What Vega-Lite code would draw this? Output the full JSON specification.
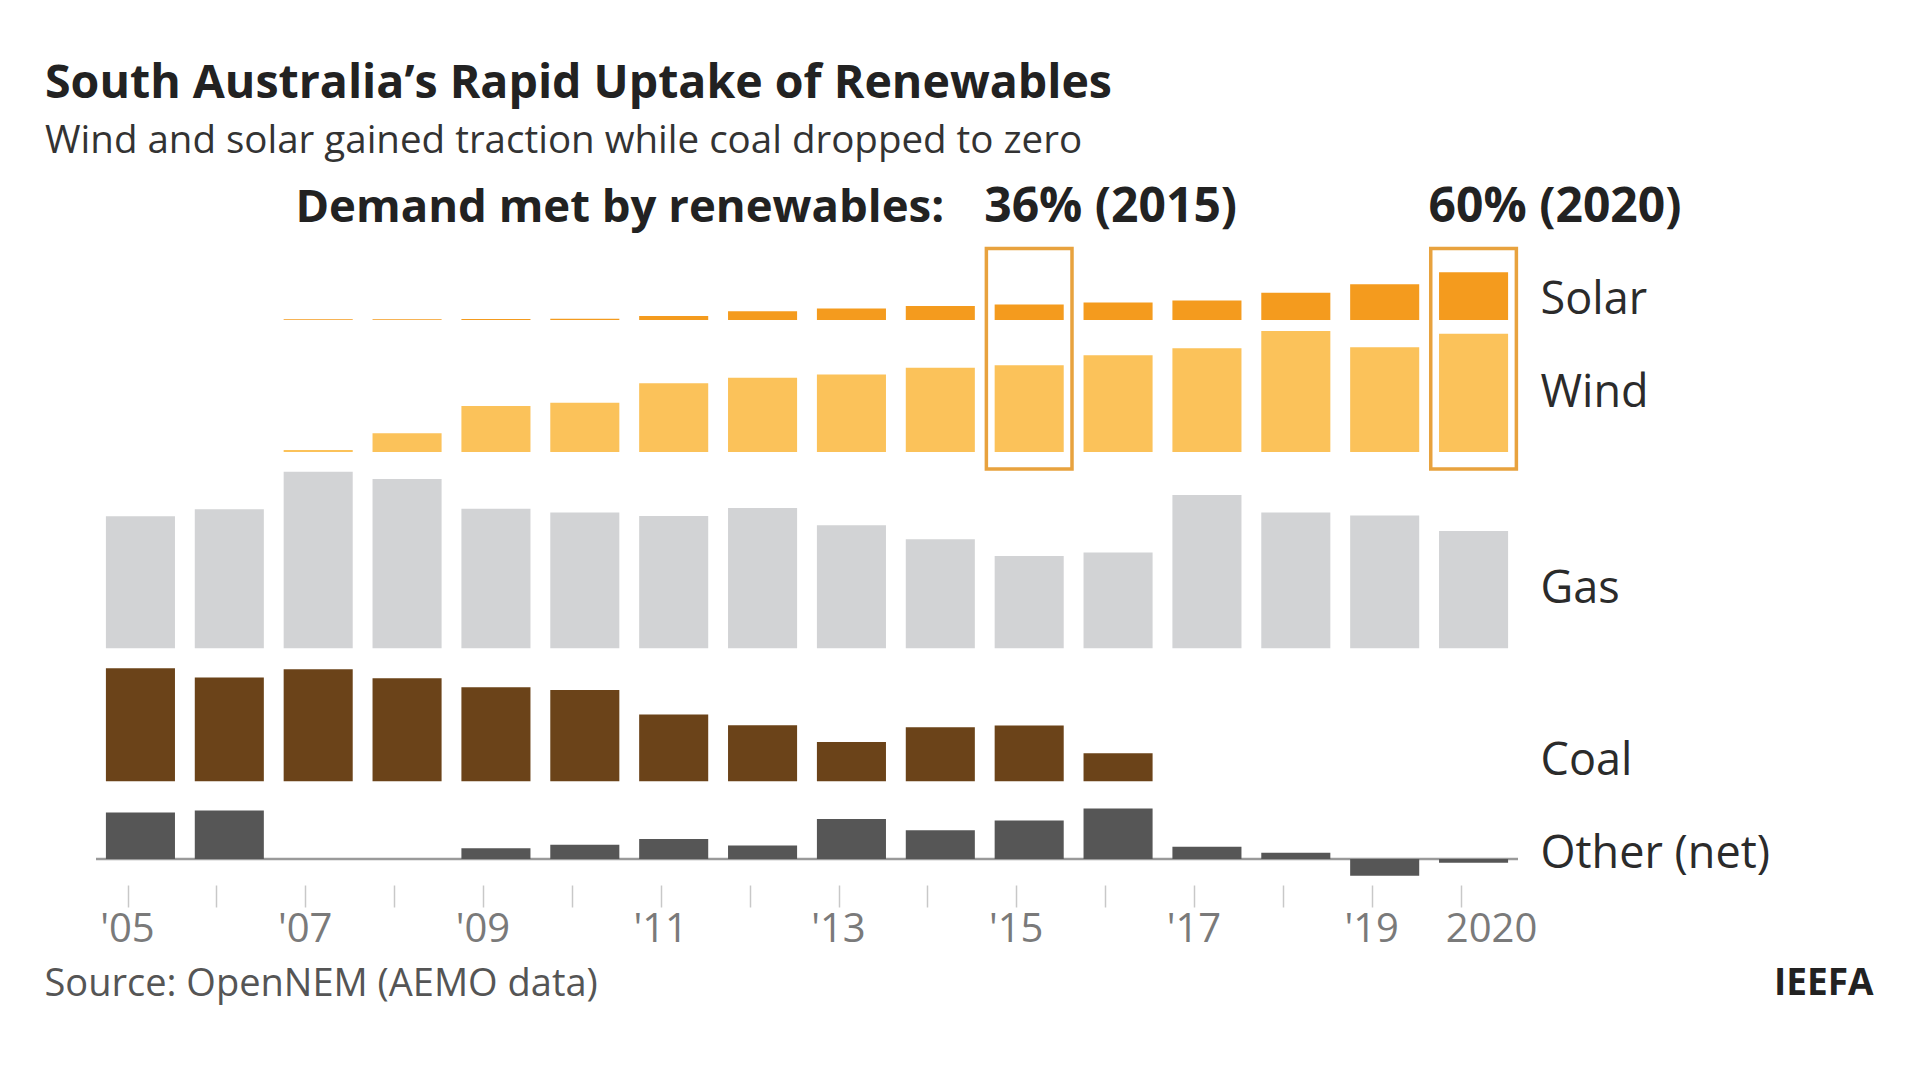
{
  "$schema": "https://vega.github.io/schema/vega-lite/v6.json",
  "width": 1422,
  "height": 715,
  "autosize": {"type": "none"},
  "padding": {"left": 96, "top": 170, "right": 402, "bottom": 195},
  "background": "white",
  "title": {
    "text": "South Australia’s Rapid Uptake of Renewables",
    "subtitle": "Wind and solar gained traction while coal dropped to zero",
    "anchor": "start",
    "frame": "group",
    "dx": -51,
    "offset": 10,
    "font": "Open Sans",
    "fontSize": 46.5,
    "fontWeight": "bold",
    "color": "#222222",
    "subtitleFont": "Open Sans",
    "subtitleFontSize": 38.5,
    "subtitleColor": "#333333",
    "subtitlePadding": 15
  },
  "config": {"font": "Open Sans", "view": {"stroke": null}},
  "datasets": {
    "gen": [
      {"year": 2005, "source": "Solar", "value": 0},
      {"year": 2006, "source": "Solar", "value": 0},
      {"year": 2007, "source": "Solar", "value": 0.03},
      {"year": 2008, "source": "Solar", "value": 0.03},
      {"year": 2009, "source": "Solar", "value": 0.04},
      {"year": 2010, "source": "Solar", "value": 0.06},
      {"year": 2011, "source": "Solar", "value": 0.18},
      {"year": 2012, "source": "Solar", "value": 0.39},
      {"year": 2013, "source": "Solar", "value": 0.52},
      {"year": 2014, "source": "Solar", "value": 0.63},
      {"year": 2015, "source": "Solar", "value": 0.69},
      {"year": 2016, "source": "Solar", "value": 0.78},
      {"year": 2017, "source": "Solar", "value": 0.88},
      {"year": 2018, "source": "Solar", "value": 1.22},
      {"year": 2019, "source": "Solar", "value": 1.6},
      {"year": 2020, "source": "Solar", "value": 2.14},
      {"year": 2005, "source": "Wind", "value": 0},
      {"year": 2006, "source": "Wind", "value": 0},
      {"year": 2007, "source": "Wind", "value": 0.09},
      {"year": 2008, "source": "Wind", "value": 0.84},
      {"year": 2009, "source": "Wind", "value": 2.06},
      {"year": 2010, "source": "Wind", "value": 2.21},
      {"year": 2011, "source": "Wind", "value": 3.08},
      {"year": 2012, "source": "Wind", "value": 3.33},
      {"year": 2013, "source": "Wind", "value": 3.48},
      {"year": 2014, "source": "Wind", "value": 3.78},
      {"year": 2015, "source": "Wind", "value": 3.89},
      {"year": 2016, "source": "Wind", "value": 4.34},
      {"year": 2017, "source": "Wind", "value": 4.65},
      {"year": 2018, "source": "Wind", "value": 5.43},
      {"year": 2019, "source": "Wind", "value": 4.7},
      {"year": 2020, "source": "Wind", "value": 5.3},
      {"year": 2005, "source": "Gas", "value": 5.92},
      {"year": 2006, "source": "Gas", "value": 6.23},
      {"year": 2007, "source": "Gas", "value": 7.92},
      {"year": 2008, "source": "Gas", "value": 7.59},
      {"year": 2009, "source": "Gas", "value": 6.26},
      {"year": 2010, "source": "Gas", "value": 6.09},
      {"year": 2011, "source": "Gas", "value": 5.93},
      {"year": 2012, "source": "Gas", "value": 6.29},
      {"year": 2013, "source": "Gas", "value": 5.52},
      {"year": 2014, "source": "Gas", "value": 4.89},
      {"year": 2015, "source": "Gas", "value": 4.14},
      {"year": 2016, "source": "Gas", "value": 4.3},
      {"year": 2017, "source": "Gas", "value": 6.87},
      {"year": 2018, "source": "Gas", "value": 6.09},
      {"year": 2019, "source": "Gas", "value": 5.95},
      {"year": 2020, "source": "Gas", "value": 5.26},
      {"year": 2005, "source": "Coal", "value": 5.07},
      {"year": 2006, "source": "Coal", "value": 4.66},
      {"year": 2007, "source": "Coal", "value": 5.02},
      {"year": 2008, "source": "Coal", "value": 4.62},
      {"year": 2009, "source": "Coal", "value": 4.22},
      {"year": 2010, "source": "Coal", "value": 4.09},
      {"year": 2011, "source": "Coal", "value": 3.0},
      {"year": 2012, "source": "Coal", "value": 2.51},
      {"year": 2013, "source": "Coal", "value": 1.76},
      {"year": 2014, "source": "Coal", "value": 2.42},
      {"year": 2015, "source": "Coal", "value": 2.5},
      {"year": 2016, "source": "Coal", "value": 1.26},
      {"year": 2017, "source": "Coal", "value": 0},
      {"year": 2018, "source": "Coal", "value": 0},
      {"year": 2019, "source": "Coal", "value": 0},
      {"year": 2020, "source": "Coal", "value": 0},
      {"year": 2005, "source": "Other (net)", "value": 2.08},
      {"year": 2006, "source": "Other (net)", "value": 2.17},
      {"year": 2007, "source": "Other (net)", "value": 0},
      {"year": 2008, "source": "Other (net)", "value": 0},
      {"year": 2009, "source": "Other (net)", "value": 0.48},
      {"year": 2010, "source": "Other (net)", "value": 0.64},
      {"year": 2011, "source": "Other (net)", "value": 0.9},
      {"year": 2012, "source": "Other (net)", "value": 0.61},
      {"year": 2013, "source": "Other (net)", "value": 1.79},
      {"year": 2014, "source": "Other (net)", "value": 1.29},
      {"year": 2015, "source": "Other (net)", "value": 1.73},
      {"year": 2016, "source": "Other (net)", "value": 2.27},
      {"year": 2017, "source": "Other (net)", "value": 0.55},
      {"year": 2018, "source": "Other (net)", "value": 0.28},
      {"year": 2019, "source": "Other (net)", "value": -0.75},
      {"year": 2020, "source": "Other (net)", "value": -0.17}
    ]
  },
  "data": {"name": "gen"},
  "layer": [
    {
      "layer": [
        {
          "transform": [{"filter": "datum.source == 'Solar'"}],
          "mark": {"type": "bar", "color": "#F49B1E"},
          "encoding": {
            "x": {
              "field": "year", "type": "ordinal",
              "scale": {"type": "band", "paddingInner": 0.223, "paddingOuter": 0.1115},
              "axis": {
                "title": null, "domain": false, "grid": false,
                "ticks": true, "tickSize": 22, "tickColor": "#c8c8c8", "tickWidth": 1.5,
                "bandPosition": 0.32,
                "labelFont": "Open Sans", "labelFontSize": 40, "labelColor": "#7a7a7a",
                "labelPadding": 2, "labelAngle": 0,
                "labelOffset": {"condition": {"test": "datum.value == 2020", "value": 18}, "value": -13},
                "labelOverlap": false, "labelBound": false, "labelFlush": false,
                "labelExpr": "datum.value == 2020 ? '2020' : (datum.value % 2 == 1 ? \"'\" + substring(datum.label, 2, 4) : '')"
              }
            },
            "y": {"field": "value", "type": "quantitative", "scale": {"domain": [0, 10], "range": [150, -73], "nice": false, "zero": false}, "axis": null}
          }
        },
        {
          "data": {"values": [{"year": 2020, "label": "Solar"}]},
          "mark": {"type": "text", "align": "left", "baseline": "alphabetic", "dx": 67, "fontSize": 45, "color": "#2b2b2b"},
          "encoding": {
            "x": {"field": "year", "type": "ordinal"},
            "y": {"datum": 0.27},
            "text": {"field": "label"}
          }
        },
        {
          "data": {"values": [{"year": 2015}, {"year": 2020}]},
          "mark": {"type": "bar", "filled": false, "stroke": "#E8A23E", "strokeWidth": 3.5, "fill": null, "width": {"band": 1.24}},
          "encoding": {
            "x": {"field": "year", "type": "ordinal"},
            "y": {"datum": 3.21},
            "y2": {"datum": -6.68}
          }
        },
        {
          "data": {"values": [{"year": 2015, "share": "36% (2015)"}, {"year": 2020, "share": "60% (2020)"}]},
          "mark": {"type": "text", "align": "left", "baseline": "alphabetic", "dx": -45, "fontSize": 48, "fontWeight": "bold", "color": "#222222"},
          "encoding": {
            "x": {"field": "year", "type": "ordinal"},
            "y": {"datum": 4.39},
            "text": {"field": "share"}
          }
        },
        {
          "data": {"values": [{"year": 2015, "label": "Demand met by renewables:"}]},
          "mark": {"type": "text", "align": "right", "baseline": "alphabetic", "dx": -85, "fontSize": 45.5, "fontWeight": "bold", "color": "#222222"},
          "encoding": {
            "x": {"field": "year", "type": "ordinal"},
            "y": {"datum": 4.39},
            "text": {"field": "label"}
          }
        }
      ]
    },
    {
      "layer": [
        {
          "transform": [{"filter": "datum.source == 'Wind'"}],
          "mark": {"type": "bar", "color": "#FBC25A"},
          "encoding": {
            "x": {"field": "year", "type": "ordinal"},
            "y": {"field": "value", "type": "quantitative", "scale": {"domain": [0, 10], "range": [282, 59], "nice": false, "zero": false}, "axis": null}
          }
        },
        {
          "data": {"values": [{"year": 2020, "label": "Wind"}]},
          "mark": {"type": "text", "align": "left", "baseline": "alphabetic", "dx": 67, "fontSize": 45, "color": "#2b2b2b"},
          "encoding": {
            "x": {"field": "year", "type": "ordinal"},
            "y": {"datum": 2.03},
            "text": {"field": "label"}
          }
        }
      ]
    },
    {
      "layer": [
        {
          "transform": [{"filter": "datum.source == 'Gas'"}],
          "mark": {"type": "bar", "color": "#D2D3D5"},
          "encoding": {
            "x": {"field": "year", "type": "ordinal"},
            "y": {"field": "value", "type": "quantitative", "scale": {"domain": [0, 10], "range": [478.3, 255.3], "nice": false, "zero": false}, "axis": null}
          }
        },
        {
          "data": {"values": [{"year": 2020, "label": "Gas"}]},
          "mark": {"type": "text", "align": "left", "baseline": "alphabetic", "dx": 67, "fontSize": 45, "color": "#2b2b2b"},
          "encoding": {
            "x": {"field": "year", "type": "ordinal"},
            "y": {"datum": 2.03},
            "text": {"field": "label"}
          }
        }
      ]
    },
    {
      "layer": [
        {
          "transform": [{"filter": "datum.source == 'Coal'"}],
          "mark": {"type": "bar", "color": "#6B4319"},
          "encoding": {
            "x": {"field": "year", "type": "ordinal"},
            "y": {"field": "value", "type": "quantitative", "scale": {"domain": [0, 10], "range": [611.3, 388.3], "nice": false, "zero": false}, "axis": null}
          }
        },
        {
          "data": {"values": [{"year": 2020, "label": "Coal"}]},
          "mark": {"type": "text", "align": "left", "baseline": "alphabetic", "dx": 67, "fontSize": 45, "color": "#2b2b2b"},
          "encoding": {
            "x": {"field": "year", "type": "ordinal"},
            "y": {"datum": 0.28},
            "text": {"field": "label"}
          }
        }
      ]
    },
    {
      "layer": [
        {
          "data": {"values": [{"baseline": 0}]},
          "mark": {"type": "rule", "color": "#9a9a9a", "strokeWidth": 2.5},
          "encoding": {
            "y": {"field": "baseline", "type": "quantitative", "scale": {"domain": [0, 10], "range": [689, 466], "nice": false, "zero": false}, "axis": null}
          }
        },
        {
          "transform": [{"filter": "datum.source == 'Other (net)'"}],
          "mark": {"type": "bar", "color": "#565656"},
          "encoding": {
            "x": {"field": "year", "type": "ordinal"},
            "y": {"field": "value", "type": "quantitative", "axis": null}
          }
        },
        {
          "data": {"values": [{"year": 2020, "label": "Other (net)"}]},
          "mark": {"type": "text", "align": "left", "baseline": "alphabetic", "dx": 67, "fontSize": 45, "color": "#2b2b2b"},
          "encoding": {
            "x": {"field": "year", "type": "ordinal"},
            "y": {"datum": -0.4},
            "text": {"field": "label"}
          }
        },
        {
          "data": {"values": [{"year": 2005, "label": "Source: OpenNEM (AEMO data)"}]},
          "mark": {"type": "text", "align": "left", "baseline": "alphabetic", "dx": -96, "fontSize": 38, "color": "#555555"},
          "encoding": {
            "x": {"field": "year", "type": "ordinal"},
            "y": {"datum": -6.14},
            "text": {"field": "label"}
          }
        },
        {
          "data": {"values": [{"year": 2020, "label": "IEEFA"}]},
          "mark": {"type": "text", "align": "right", "baseline": "alphabetic", "dx": 400, "fontSize": 37, "fontWeight": "bold", "color": "#222222"},
          "encoding": {
            "x": {"field": "year", "type": "ordinal"},
            "y": {"datum": -6.1},
            "text": {"field": "label"}
          }
        }
      ]
    }
  ],
  "resolve": {"scale": {"y": "independent"}}
}
